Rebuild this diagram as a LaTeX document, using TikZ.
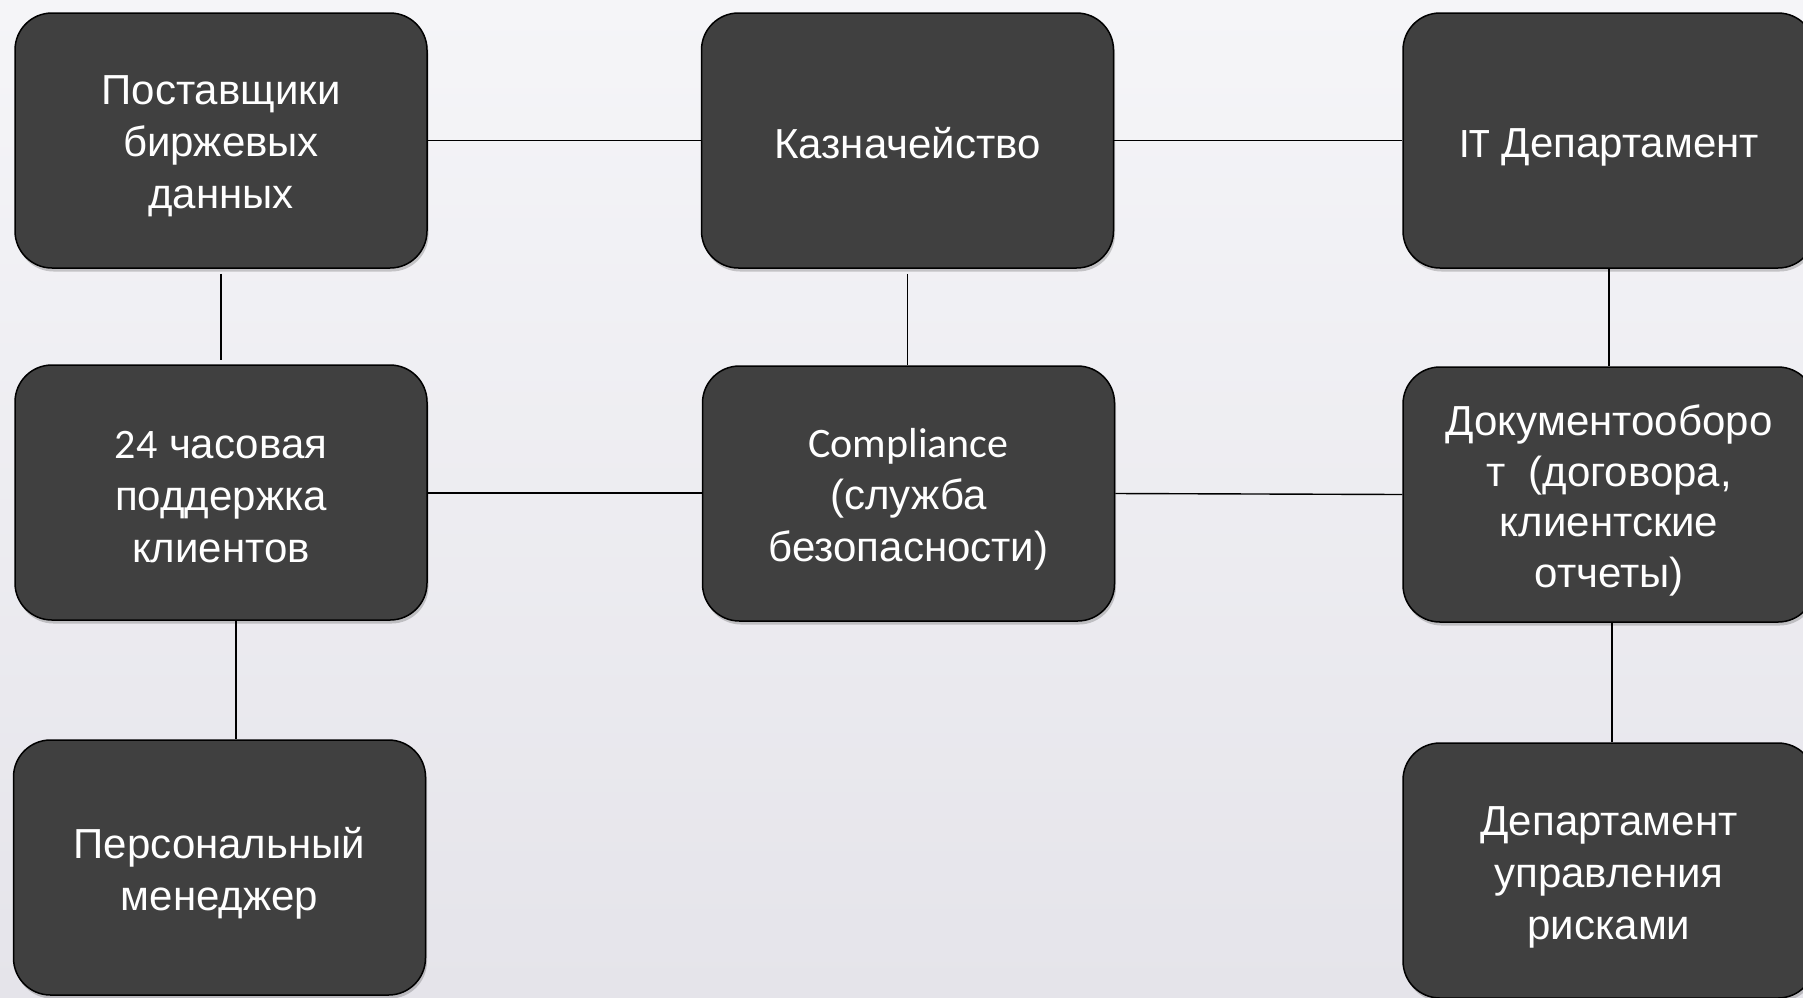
\documentclass[tikz,border=0pt]{standalone}
\usepackage{fontspec}
\setmainfont{Liberation Sans}
\newfontfamily\calibri{Carlito}
\usetikzlibrary{shadows}
\definecolor{boxfill}{HTML}{404040}
\definecolor{bgtop}{HTML}{F5F5F8}
\definecolor{bgbot}{HTML}{E5E4EA}
\tikzset{
  unitbox/.style={draw=black, line width=1.5pt, fill=boxfill, rounded corners=37pt,
    minimum width=412pt, minimum height=255pt, inner sep=0pt,
    drop shadow={opacity=0.28, shadow xshift=1.5pt, shadow yshift=-3.5pt, fill=black!70}},
  boxtext/.style={inner sep=0pt, align=center, text=white,
    font=\fontsize{42}{52}\selectfont},
  link/.style={draw=black, line width=1.4pt}
}
\begin{document}
\begin{tikzpicture}[x=1pt,y=-1pt]
\useasboundingbox (0,0) rectangle (1803,997);
\shade[top color=bgtop, bottom color=bgbot] (0,0) rectangle (1803,997);

\node[unitbox] (b1) at (221,140.5) {};
\node[unitbox] (b2) at (907.5,140.5) {};
\node[unitbox] (b3) at (1609,140.5) {};
\node[unitbox] (b4) at (221,492.5) {};
\node[unitbox] (b5) at (908.5,493.5) {};
\node[unitbox] (b6) at (1609,494.5) {};
\node[unitbox] (b7) at (219.5,867.5) {};
\node[unitbox] (b8) at (1609,870.5) {};

\node[boxtext] (t1) at ([yshift=-6pt]b1.center) {Поставщики\\биржевых\\данных};
\node[boxtext] (t2) at ([yshift=-2.5pt]b2.center) {Казначейство};
\node[boxtext] (t3) at ([yshift=-7pt]b3.center) {{\calibri IT} Департамент};
\node[boxtext] (t4) at ([yshift=-4.5pt]b4.center) {{\calibri 24} часовая\\поддержка\\клиентов};
\node[boxtext] (t5) at ([yshift=-6pt]b5.center) {{\calibri Compliance}\\(служба\\безопасности)};
\node[boxtext, font=\fontsize{42}{50.5}\selectfont] (t6) at ([yshift=-6pt]b6.center) {Документооборо\\т\ \ (договора,\\клиентские\\отчеты)};
\node[boxtext] (t7) at ([yshift=-6pt]b7.center) {Персональный\\менеджер};
\node[boxtext] (t8) at ([yshift=-7pt]b8.center) {Департамент\\управления\\рисками};

% horizontal links
\draw[link] (b1.east) -- (b2.west);
\draw[link] (b2.east) -- (b3.west);
\draw[link] ([yshift=-0.5pt]b4.east) -- ([yshift=0.5pt]b5.west);
\draw[link] (b5.east) -- (b6.west);
% vertical links
\draw[link, shorten <=5pt, shorten >=4pt] (b1.south) -- (b4.north);
\draw[link, shorten <=5pt] (b2.south) -- (b2.south |- b5.north);
\draw[link] (b3.south) -- (b6.north);
\draw[link] ([xshift=15pt]b4.south) -- ([xshift=15pt]b4.south |- b7.north);
\draw[link] ([xshift=3pt]b6.south) -- ([xshift=3pt]b6.south |- b8.north);
\end{tikzpicture}
\end{document}
